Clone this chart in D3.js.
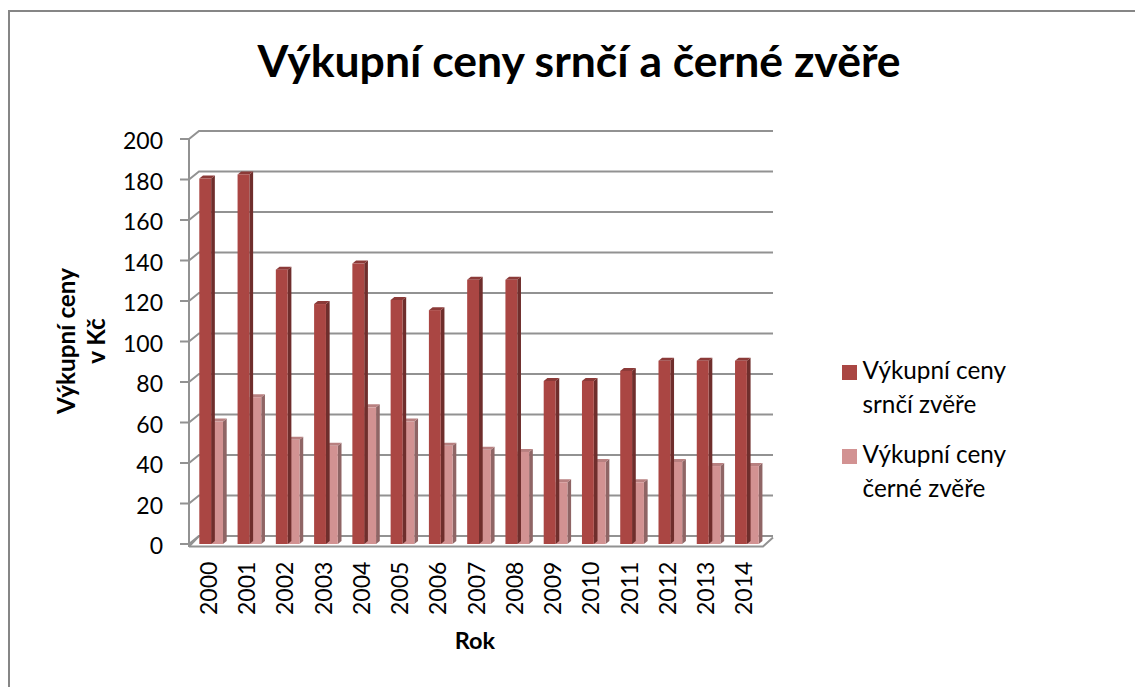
<!DOCTYPE html>
<html><head><meta charset="utf-8">
<script src="https://cdnjs.cloudflare.com/ajax/libs/d3/7.8.5/d3.min.js"></script>
<style>html,body{margin:0;padding:0;background:#fff}svg{display:block}text{font-family:Lato,"Open Sans",sans-serif;fill:#000}</style>
</head><body><svg id="c" width="1135" height="687"></svg>
<script>
const years=["2000","2001","2002","2003","2004","2005","2006","2007","2008","2009","2010","2011","2012","2013","2014"];
const srnci=[180,182,135,118,138,120,115,130,130,80,80,85,90,90,90];
const cerne=[60,72,51,48,67,60,48,46,45,30,40,30,40,38,38];
const yTicks=[0,20,40,60,80,100,120,140,160,180,200];
const titleText="Výkupní ceny srnčí a černé zvěře";
const yTitle=["Výkupní ceny","v Kč"];
const xTitle="Rok";
const legendLines=[["Výkupní ceny","srnčí zvěře"],["Výkupní ceny","černé zvěře"]];

const svg=d3.select("#c");
const grid="#929292";
svg.append("rect").attr("x",9).attr("y",11).attr("width",1140).attr("height",690).attr("fill","#fff").attr("stroke","#868686").attr("stroke-width",2);

const dx=10,dy=-8;
const x0=189,x1=763;
const y=d3.scaleLinear().domain([0,200]).range([544,139]);
const x=d3.scaleBand().domain(years).range([x0,x1]);
const inner=d3.scaleBand().domain([0,1]).range([10.3,34]);

const g=svg.append("g").attr("fill","none").attr("stroke",grid);
yTicks.forEach(t=>{
  const yy=y(t);
  g.append("path").attr("stroke-width",2).attr("d",`M${x0-9},${yy}H${x0}L${x0+dx},${yy+dy}H${x1+dx}`);
});
g.append("path").attr("stroke-width",2).attr("d",`M${x0},${y(200)}V${y(0)+3}`);
svg.append("path").attr("fill","#fff").attr("stroke",grid).attr("stroke-width",2)
  .attr("d",`M${x0},${y(0)+2.5}H${x1}L${x1+dx},${y(0)+dy+2.5-1}`);
svg.append("path").attr("fill","none").attr("stroke",grid).attr("stroke-width",2)
  .attr("d",`M${x0},${y(0)+2.5}L${x0+dx},${y(0)+dy}`);

function bar(sel,cx,v,w,front,side,top){
  const yt=y(v)-1,yb=y(0);const sx=3.7,sy=3;
  sel.append("path").attr("fill",side).attr("d",`M${cx+w},${yt}l${sx},${-sy}V${yb-sy}l${-sx},${sy}Z`);
  sel.append("path").attr("fill",top).attr("d",`M${cx},${yt}l${sx},${-sy}h${w}l${-sx},${sy}Z`);
  sel.append("rect").attr("x",cx).attr("y",yt).attr("width",w).attr("height",yb-yt).attr("fill",front);
}
const bars=svg.append("g");
years.forEach((yr,i)=>{
  bar(bars,x(yr)+inner(1),cerne[i],inner.bandwidth(),"#d29292","#8f6565","#b88080");
  bar(bars,x(yr)+inner(0),srnci[i],inner.bandwidth(),"#aa4643","#6f2e2c","#8b3a38");
});

svg.append("g").selectAll("text").data(yTicks).join("text")
  .attr("x",163).attr("y",d=>y(d)+10).attr("text-anchor","end").attr("font-size",23).text(d=>d);
svg.append("g").selectAll("text").data(years).join("text")
  .attr("transform",d=>`translate(${x(d)+27.7},615) rotate(-90)`).attr("font-size",23).text(d=>d);

svg.append("text").attr("x",579).attr("y",77).attr("text-anchor","middle").attr("font-size",44.5).attr("font-weight",700).text(titleText);
svg.append("text").attr("x",475).attr("y",649).attr("text-anchor","middle").attr("font-size",23.5).attr("font-weight",700).text(xTitle);
yTitle.forEach((s,i)=>svg.append("text").attr("transform",`translate(${75+i*30},341) rotate(-90)`).attr("text-anchor","middle").attr("font-size",24.3).attr("font-weight",700).text(s));

[["#aa4643",365],["#d29292",449]].forEach(([c,ly],i)=>{
  svg.append("rect").attr("x",842).attr("y",ly).attr("width",15).attr("height",15).attr("fill",c);
  legendLines[i].forEach((s,j)=>svg.append("text").attr("x",862.5).attr("y",ly+14+j*33.5).attr("font-size",24.3).text(s));
});
</script></body></html>
